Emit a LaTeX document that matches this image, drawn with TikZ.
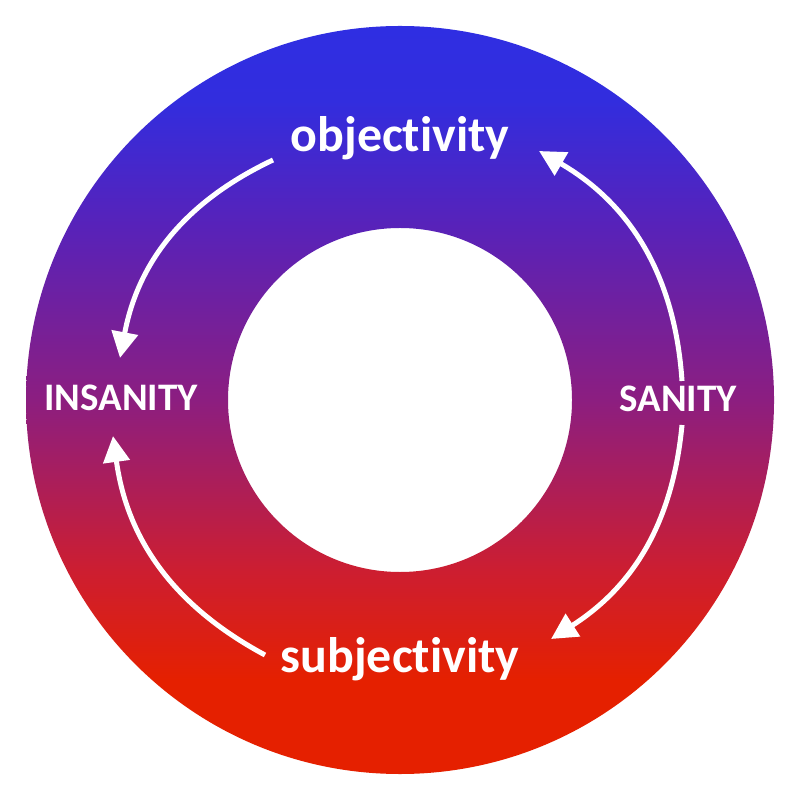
\documentclass[tikz,border=0pt]{standalone}
\usepackage{fontspec}
\setmainfont[Ligatures=NoCommon]{Carlito}
\usetikzlibrary{arrows.meta}
\definecolor{topblue}{RGB}{47,46,226}
\definecolor{blueb}{RGB}{50,45,222}
\definecolor{violet}{RGB}{88,34,185}
\definecolor{midpurple}{RGB}{140,30,128}
\definecolor{crimson}{RGB}{205,30,48}
\definecolor{botred}{RGB}{229,32,0}
\pgfdeclareverticalshading{ringshade}{100bp}{
  color(0bp)=(botred); color(31.3bp)=(botred); color(38.5bp)=(crimson);
  color(50bp)=(midpurple); color(61.6bp)=(violet); color(70bp)=(blueb);
  color(75bp)=(topblue); color(100bp)=(topblue)}
\tikzset{
  lbl/.style={text=white, font=\bfseries, anchor=base, inner sep=0pt},
  big/.style={lbl, font=\fontsize{14.2}{16}\selectfont\bfseries},
  caps/.style={lbl, font=\fontsize{11.1}{13}\selectfont\bfseries},
  flow/.style={draw=white, line width=0.5mm, -{Triangle[length=2.6mm, width=2.6mm]}}
}
\begin{document}
\begin{tikzpicture}[x=0.1mm, y=-0.1mm]
\useasboundingbox (0,0) rectangle (800,800);
\fill[white] (0,0) rectangle (800,800);
\shade[shading=ringshade, even odd rule]
  (400,400) circle (374) (400,400) circle (172);
\node[big] (obj) at (400,152) {objectivity};
\node[big] (subj) at (400,672) {subjectivity};
\node[caps] (ins) at (121,411) {INSANITY};
\node[caps] (san) at (678,412) {SANITY};
\coordinate (a1) at (682,381);
\coordinate (a2) at (539,151);
\coordinate (b1) at (273,160);
\coordinate (b2) at (120,358);
\coordinate (c1) at (265,655);
\coordinate (c2) at (113,436);
\coordinate (d1) at (682,425);
\coordinate (d2) at (551,639);
\draw[flow] (a1) to[bend right=28] (a2);
\draw[flow] (b1) to[bend right=27] (b2);
\draw[flow] (c1) to[bend left=27] (c2);
\draw[flow] (d1) to[bend left=26] (d2);
\end{tikzpicture}
\end{document}
